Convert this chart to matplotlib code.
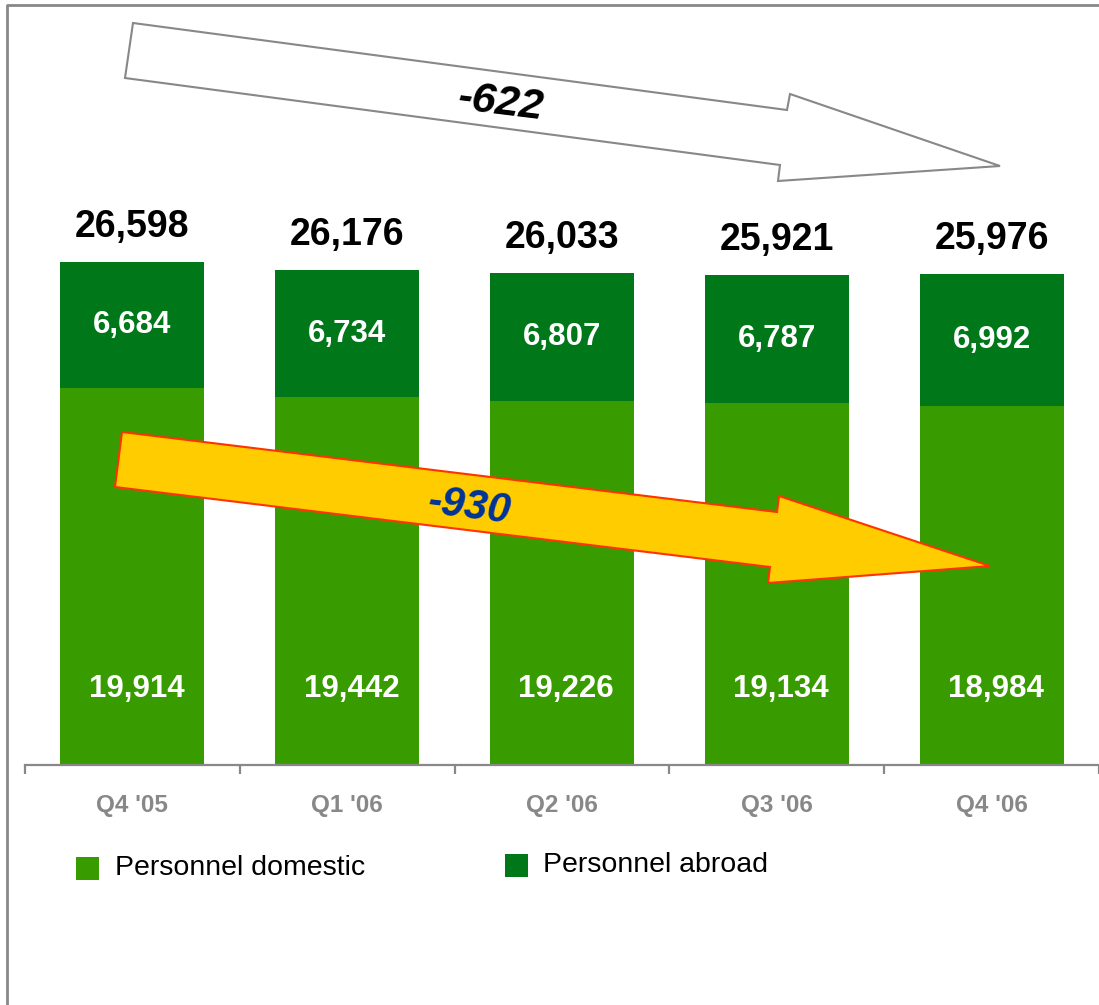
import numpy as np
import matplotlib.pyplot as plt
from matplotlib.patches import Polygon, Rectangle
from matplotlib.lines import Line2D

plt.rcParams['font.family'] = ['Liberation Sans', 'DejaVu Sans']

quarters = ["Q4 '05", "Q1 '06", "Q2 '06", "Q3 '06", "Q4 '06"]
domestic = [19914, 19442, 19226, 19134, 18984]
abroad = [6684, 6734, 6807, 6787, 6992]
totals = [26598, 26176, 26033, 25921, 25976]
series_names = ['Personnel domestic', 'Personnel abroad']
change_total = '-622'
change_domestic = '-930'

COL_DOM = '#389c00'
COL_ABR = '#00781a'
GRAY = '#888888'

W, H = 1099, 1005
fig = plt.figure(figsize=(W / 100, H / 100), dpi=100)

# axes: baseline at pixel row 765, x from pixel 24 to right edge
base_px = 765
px_per_unit = 0.018911
ax = fig.add_axes([25 / W, (H - base_px) / H, 1 - 25 / W, base_px / H])
ax.set_xlim(-0.5, len(quarters) - 0.5)
ax.set_ylim(0, base_px / px_per_unit)

x = np.arange(len(quarters))
ax.bar(x, domestic, width=0.67, color=COL_DOM, zorder=2)
ax.bar(x, abroad, width=0.67, bottom=domestic, color=COL_ABR, zorder=2)

for i in range(len(quarters)):
    ax.annotate(f'{totals[i]:,}', (x[i], totals[i]), xytext=(0, 25),
                textcoords='offset points', ha='center', va='center',
                fontsize=27, fontweight='bold', color='black')
    ax.text(x[i], domestic[i] + abroad[i] / 2, f'{abroad[i]:,}', ha='center',
            va='center', fontsize=22.5, fontweight='bold', color='white')
    ax.annotate(f'{domestic[i]:,}', (x[i], 0), xytext=(3, 55),
                textcoords='offset points', ha='center', va='center',
                fontsize=22.5, fontweight='bold', color='white')

for s in ['top', 'right', 'left']:
    ax.spines[s].set_visible(False)
ax.spines['bottom'].set_color(GRAY)
ax.spines['bottom'].set_linewidth(1.6)
ax.set_yticks([])
ax.set_xticks(x)
ax.set_xticklabels(quarters, fontsize=17.5, fontweight='bold', color=GRAY)
ax.tick_params(axis='x', which='major', length=0, pad=21)
ax.set_xticks(np.arange(-0.5, len(quarters)), minor=True)
ax.tick_params(axis='x', which='minor', length=6.5, width=1.6, color=GRAY)


def px(points):
    return [(a / W, 1 - b / H) for a, b in points]


# grey outline arrow (total change)
grey_arrow = [(133, 23), (787, 110), (790, 94), (1000, 166), (778, 181),
              (780, 165), (125, 78)]
fig.patches.append(Polygon(px(grey_arrow), closed=True, transform=fig.transFigure,
                           facecolor='white', edgecolor=GRAY, linewidth=1.5,
                           zorder=1))
fig.text(501 / W, 1 - 103 / H, change_total, ha='center', va='center',
         fontsize=31, fontweight='bold', fontstyle='italic', color='black',
         rotation=-7)

# yellow arrow (domestic change)
yellow_arrow = [(122, 432), (777, 512), (779, 496), (990, 566), (768, 583),
                (770, 567), (115, 487)]
fig.patches.append(Polygon(px(yellow_arrow), closed=True, transform=fig.transFigure,
                           facecolor='#ffcc00', edgecolor='#ff3300', linewidth=1.5,
                           zorder=1))
fig.text(470 / W, 1 - 507 / H, change_domestic, ha='center', va='center',
         fontsize=30, fontweight='bold', fontstyle='italic', color='#003399',
         rotation=-7)

# legend
legend_pos = [(76, 857, 115, 868), (505, 854, 543, 865)]
for (sx, sy, tx, ty), name, col in zip(legend_pos, series_names, [COL_DOM, COL_ABR]):
    fig.patches.append(Rectangle((sx / W, 1 - (sy + 23) / H), 23 / W, 23 / H,
                                 transform=fig.transFigure, facecolor=col,
                                 edgecolor='none'))
    fig.text(tx / W, 1 - ty / H, name, ha='left', va='center', fontsize=20.5,
             color='black')

# frame on left and top
fig.lines.append(Line2D([7 / W, 7 / W, 1], [0, 1 - 5 / H, 1 - 5 / H],
                        transform=fig.transFigure, color=GRAY, linewidth=2))

fig.savefig('out.png', dpi=100)
